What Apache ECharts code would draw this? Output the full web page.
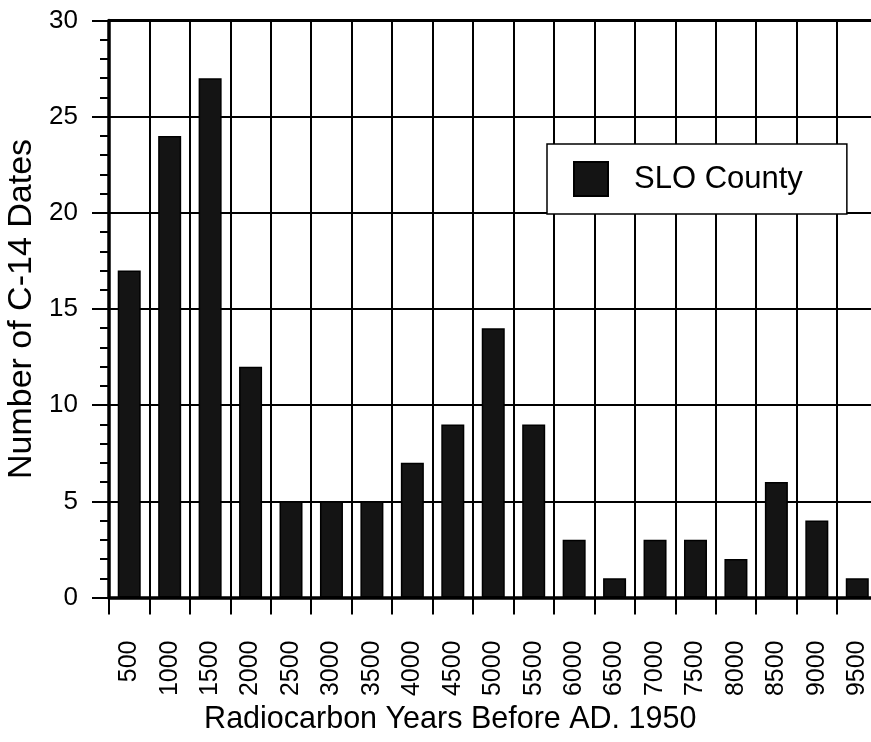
<!DOCTYPE html>
<html>
<head>
<meta charset="utf-8">
<script src="https://cdn.jsdelivr.net/npm/echarts@6/dist/echarts.min.js"></script>
<style>
html,body{margin:0;padding:0;background:#fff;}
#chart{width:871px;height:742px;}
</style>
</head>
<body>
<div id="chart"></div>
<script>
var categories = ['500','1000','1500','2000','2500','3000','3500','4000','4500','5000','5500','6000','6500','7000','7500','8000','8500','9000','9500'];
var counts = [17, 24, 27, 12, 5, 5, 5, 7, 9, 14, 9, 3, 1, 3, 3, 2, 6, 4, 1];
var seriesName = 'SLO County';
var xTitle = 'Radiocarbon Years Before AD. 1950';
var yTitle = 'Number of C-14 Dates';

var FONT = '"Liberation Sans", Arial, Helvetica, sans-serif';
var chart = echarts.init(document.getElementById('chart'), null, {renderer: 'canvas'});
chart.setOption({
  animation: false,
  backgroundColor: '#fff',
  textStyle: {fontFamily: FONT, color: '#000'},
  grid: {left: 109, top: 20.5, width: 768.5, height: 577, containLabel: false, outerBoundsMode: 'none'},
  legend: {
    show: true,
    left: 547, top: 144,
    orient: 'horizontal',
    backgroundColor: '#fff',
    borderColor: '#000',
    borderWidth: 1.5,
    borderRadius: 0,
    padding: [17, 44, 17, 26],
    itemWidth: 34, itemHeight: 34,
    icon: 'rect',
    textStyle: {fontSize: 31, color: '#000', fontFamily: FONT, padding: [0, 0, 0, 21]},
    data: [seriesName]
  },
  xAxis: [{
    type: 'category',
    data: categories,
    boundaryGap: true,
    axisLine: {show: true, lineStyle: {color: '#000', width: 3.5}},
    axisTick: {show: true, interval: 0, length: 17, lineStyle: {color: '#000', width: 2}},
    axisLabel: {show: true, interval: 0, rotate: 90, margin: 43, fontSize: 25, color: '#000', fontFamily: FONT, padding: [10, 0, 0, 0]},
    splitLine: {show: true, interval: 0, lineStyle: {color: '#000', width: 2}},
    name: xTitle,
    nameLocation: 'middle',
    nameGap: 105,
    nameTextStyle: {fontSize: 30.5, color: '#000', fontFamily: FONT, padding: [0, 86, 0, 0]}
  }, {
    type: 'category',
    position: 'top',
    data: categories,
    axisLine: {show: true, lineStyle: {color: '#000', width: 3}},
    axisTick: {show: false},
    axisLabel: {show: false},
    splitLine: {show: false}
  }],
  yAxis: {
    type: 'value',
    min: 0, max: 30, interval: 5,
    axisLine: {show: true, onZero: false, lineStyle: {color: '#000', width: 3.5}},
    axisTick: {show: true, length: 17, lineStyle: {color: '#000', width: 2}},
    minorTick: {show: true, splitNumber: 5, length: 9, lineStyle: {color: '#000', width: 2}},
    axisLabel: {show: true, margin: 31, fontSize: 26, color: '#000', fontFamily: FONT},
    splitLine: {show: true, lineStyle: {color: '#000', width: 2}},
    name: yTitle,
    nameLocation: 'middle',
    nameGap: 67,
    nameTextStyle: {fontSize: 34, color: '#000', fontFamily: FONT}
  },
  series: [{
    name: seriesName,
    type: 'bar',
    data: counts,
    barWidth: 23,
    itemStyle: {color: '#141414', borderColor: '#000', borderWidth: 1.5}
  }]
});
</script>
</body>
</html>
